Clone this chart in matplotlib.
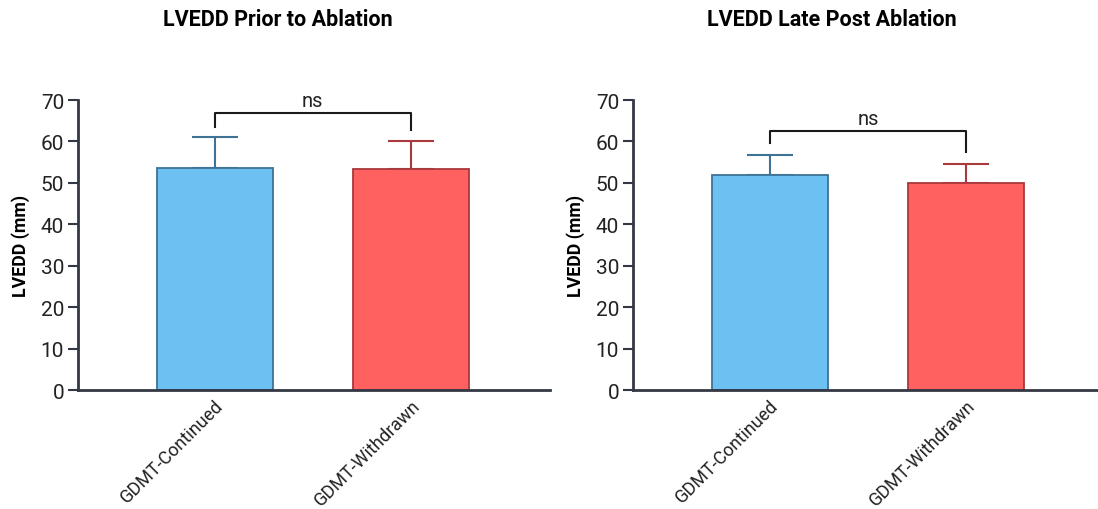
import matplotlib.pyplot as plt

plt.rcParams['font.family'] = ['Roboto', 'DejaVu Sans']

# data
groups = ['GDMT-Continued', 'GDMT-Withdrawn']
prior_mean = [53.6, 53.3]
prior_err = [7.5, 6.7]
late_mean = [51.9, 49.9]
late_err = [4.8, 4.7]
titles = ['LVEDD Prior to Ablation', 'LVEDD Late Post Ablation']

fill_colors = ['#6CC1F2', '#FF6161']
edge_colors = ['#3E7396', '#A8393C']
axis_color = '#333844'

fig = plt.figure(figsize=(10.98, 5.10), dpi=100)
ax1 = fig.add_axes([0.0710, 0.2333, 0.4299, 0.5686])
ax2 = fig.add_axes([0.5765, 0.2333, 0.4235, 0.5686])


def draw_panel(ax, means, errs, xlim, bracket_y, legs):
    x = list(range(len(groups)))
    ax.bar(x, means, width=0.59, color=fill_colors, edgecolor=edge_colors,
           linewidth=1.3, zorder=2)
    for i in x:
        ax.errorbar(i, means[i], yerr=[[0], [errs[i]]], fmt='none',
                    ecolor=edge_colors[i], elinewidth=1.5, capsize=16.5,
                    capthick=1.5, zorder=1)
    # significance bracket
    ax.plot([0, 0, 1, 1], [legs[0], bracket_y, bracket_y, legs[1]],
            color='#1a1a1a', lw=1.5, clip_on=False)
    ax.text(0.5, bracket_y + 0.8, 'ns', ha='center', va='bottom', fontsize=14.5,
            color='#222222')
    ax.set_ylim(0, 70)
    ax.set_xlim(*xlim)
    ax.set_yticks(range(0, 71, 10))
    ax.set_xticks(x)
    ax.set_xticklabels(groups, rotation=45, ha='right', rotation_mode='anchor',
                       fontsize=13, color='#222222')
    ax.tick_params(axis='y', labelsize=15, length=7, width=1.5,
                   color=axis_color, labelcolor='#222222', pad=3)
    ax.tick_params(axis='x', length=0, pad=4)
    for side in ['top', 'right']:
        ax.spines[side].set_visible(False)
    for side in ['left', 'bottom']:
        ax.spines[side].set_linewidth(2)
        ax.spines[side].set_color(axis_color)
    ax.set_ylabel('LVEDD (mm)', fontsize=12.8, fontweight='bold', labelpad=8)


draw_panel(ax1, prior_mean, prior_err, (-0.695, 1.707), 66.8, (63.5, 62.7))
draw_panel(ax2, late_mean, late_err, (-0.694, 1.669), 62.5, (59.6, 57.4))

fig.text(278 / 1098, 1 - 20 / 510, titles[0], ha='center', va='center',
         fontsize=15.5, fontweight='bold')
fig.text(832 / 1098, 1 - 20 / 510, titles[1], ha='center', va='center',
         fontsize=15.5, fontweight='bold')

fig.savefig('out.png', dpi=100)
